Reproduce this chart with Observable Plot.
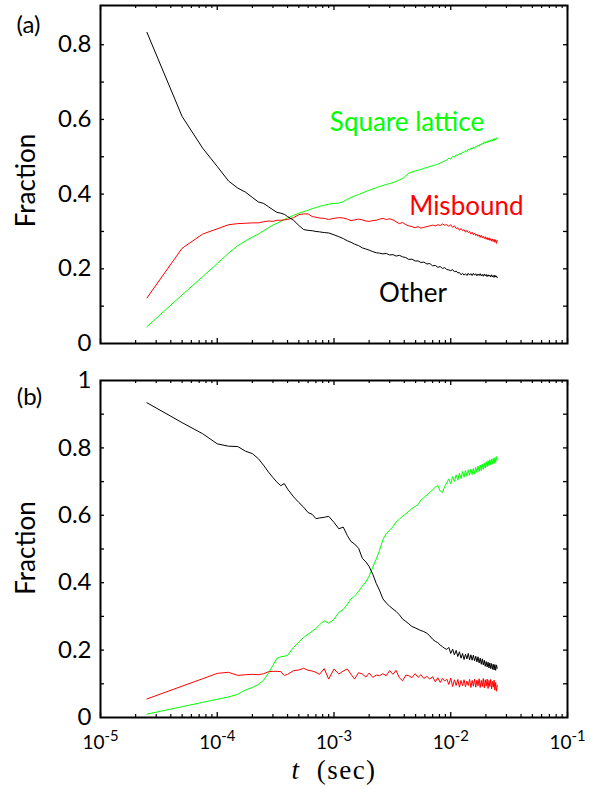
<!DOCTYPE html>
<html>
<head>
<meta charset="utf-8">
<script src="https://cdn.jsdelivr.net/npm/d3@7"></script>
<script src="https://cdn.jsdelivr.net/npm/@observablehq/plot@0.6"></script>
<style>
  html, body { margin: 0; padding: 0; background: #fff; }
  #wrap { position: relative; width: 606px; height: 789px; overflow: hidden; }
  #wrap svg { position: absolute; left: 0; overflow: visible; }
</style>
</head>
<body>
<div id="wrap"></div>
<script>
// ---- data ----
const DT = 2.5e-5; // simulation output step (sec)
const steps = [1,2,3,4,5,6,7,8,9,10,11,12,13,14,15,16,18,20,22,24,26,28,30,33,36,40,44,48,52,56,60,65,70,75,80,86,92,98,105,112,120,128,136,145,155,165,175,186,198,210,222,235,250,265,280,295,310,325,340,355,370,385,400,415,430,445,460,475,490,505,520,535,550,565,580,595,610,625,640,655,670,685,700,715,730,745,760,775,790,805,820,835,850,865,880,895,910,925,940,955,970,985,1000];

// panel (a)
const aOther = [.833,.608,.523,.474,.435,.416,.405,.391,.379,.375,.366,.358,.351,.349,.346,.340,
  .330,.316,.305,.303,.302,.300,.299,
  .297,.296,.291,.286,.281,.275,.271,.266,
  .262,.256,.253,.250,.246,.243,.242,
  .240,.241,.237,.238,.234,.236,.232,.230,.225,.226,.221,
  .221,.217,.218,.213,.214,.208,.209,.204,.206,.201,.203,
  .198,
  .197,.195,.198,.192,.194,.189,.190,.184,.188,.183,.187,.182,.188,.183,.187,.182,.188,.183,.187,.181,
  .186,.182,.187,.181,.185,.180,.186,.181,.185,.179,.184,.180,.183,.178,.184,.179,.182,.177,.183,.178,
  .181,.176];
const aMisbound = [.122,.255,.293,.307,.318,.321,.322,.323,.323,.326,.328,.327,.330,.330,.331,.332,
  .337,.345,.347,.347,.340,.338,.336,
  .335,.332,.335,.337,.336,.333,.329,.331,
  .333,.331,.328,.327,.329,.330,.333,
  .335,.332,.334,.331,.326,.321,.324,.318,.315,.313,.310,
  .313,.309,.311,.313,.315,.317,.315,.318,.316,.320,.317,
  .318,
  .314,.318,.311,.315,.308,.310,.303,.308,.302,.305,.298,.303,.297,.300,.293,.298,.291,.296,.289,.293,
  .287,.291,.284,.290,.283,.287,.281,.286,.279,.284,.277,.283,.276,.281,.274,.280,.273,.279,.271,.278,
  .268,.276];
const aSquare = [.045,.130,.179,.214,.242,.262,.275,.285,.293,.302,.310,.317,.322,.327,.332,.336,
  .343,.349,.353,.357,.361,.364,.367,
  .370,.373,.375,.376,.380,.386,.391,.395,
  .399,.403,.407,.410,.414,.417,.420,
  .423,.426,.428,.431,.434,.438,.442,.449,.456,.459,.462,
  .464,.466,.469,.471,.474,.476,.478,.480,.483,.486,.489,
  .491,
  .496,.494,.501,.499,.505,.503,.509,.507,.513,.511,.517,.514,.520,.518,.523,.521,.526,.523,.528,.526,
  .531,.528,.534,.531,.537,.534,.540,.536,.541,.537,.543,.539,.545,.541,.546,.542,.548,.543,.549,.545,
  .551,.548];

// panel (b)
const bOther = [.934,.875,.842,.812,.805,.804,.790,.783,.768,.748,.728,.712,.698,.688,.694,.678,
  .655,.638,.624,.608,.603,.590,.592,
  .594,.597,.579,.560,.565,.540,.522,.515,
  .502,.472,.462,.448,.425,.398,.378,
  .352,.340,.330,.322,.315,.305,.292,.285,.278,.270,.266,
  .262,.258,.255,.250,.242,.232,.226,.222,.215,.210,.205,
  .202,
  .208,.190,.203,.186,.199,.181,.195,.176,.190,.172,.188,.174,.190,.171,.186,.170,.185,.168,.182,.165,
  .180,.162,.176,.158,.174,.156,.170,.152,.166,.150,.164,.147,.162,.145,.160,.143,.158,.141,.157,.140,
  .156,.146];
const bMisbound = [.055,.093,.115,.131,.134,.125,.127,.128,.127,.130,.136,.137,.137,.136,.125,.128,
  .139,.141,.146,.140,.138,.134,.128,
  .145,.114,.144,.129,.138,.144,.128,.114,
  .133,.129,.120,.132,.119,.126,.124,
  .130,.124,.139,.128,.140,.118,.109,.126,.124,.118,.130,
  .119,.127,.116,.122,.114,.121,.106,.118,.104,.116,.108,
  .114,
  .098,.117,.092,.112,.095,.113,.090,.110,.094,.112,.091,.108,.095,.113,.089,.110,.093,.114,.090,.111,
  .094,.115,.089,.110,.092,.116,.088,.112,.093,.114,.086,.110,.092,.113,.085,.107,.090,.111,.081,.104,
  .078,.095];
const bSquare = [.010,.032,.045,.054,.061,.069,.082,.089,.098,.111,.132,.155,.176,.180,.182,.184,
  .208,.224,.238,.247,.256,.264,.275,
  .287,.280,.291,.312,.320,.336,.352,.360,
  .374,.390,.402,.420,.446,.470,.495,
  .528,.545,.556,.566,.580,.588,.598,.604,.612,.620,.626,
  .632,.645,.652,.660,.668,.675,.684,.688,.672,.668,.686,
  .696,
  .708,.693,.715,.700,.720,.704,.725,.709,.730,.713,.733,.716,.735,.719,.737,.721,.739,.723,.742,.727,
  .746,.730,.749,.733,.752,.736,.755,.740,.759,.744,.762,.747,.765,.750,.767,.752,.769,.754,.771,.757,
  .774,.764];

const seriesNames = ["Square lattice", "Misbound", "Other"];
const seriesColors = ["#00ff00", "#ff0000", "#000000"];
// in-plot series labels (panel a), data coordinates
const labelT = [4.22e-3, 1.36e-2, 4.75e-3];
const labelY = [0.570, 0.345, 0.112];

const xTicks = [1e-5, 1e-4, 1e-3, 1e-2, 1e-1];
const xTickExponents = ["-5", "-4", "-3", "-2", "-1"];
const aYTicks = [0, 0.2, 0.4, 0.6, 0.8];
const aYMinor = [0.1, 0.2, 0.3, 0.4, 0.5, 0.6, 0.7, 0.8];
const bYTicks = [0, 0.2, 0.4, 0.6, 0.8, 1];
const bYMinor = [0.1, 0.2, 0.3, 0.4, 0.5, 0.6, 0.7, 0.8, 0.9];

// ---- drawing ----
const W = 606, ML = 100, MR = 39;
const xMinor = d3.scaleLog().domain([1e-5, 1e-1]).ticks()
  .filter(v => Math.abs(Math.log10(v) - Math.round(Math.log10(v))) > 1e-6);

function panel(cfg) {
  const fw = W - ML - MR;
  const fh = cfg.height - cfg.marginTop - cfg.marginBottom;
  const rows = [];
  [[seriesNames[0], cfg.square], [seriesNames[1], cfg.misbound], [seriesNames[2], cfg.other]]
    .forEach(([name, vals]) => {
      if (vals.length !== steps.length) throw new Error(cfg.tag + " " + name + " has " + vals.length + " values");
      steps.forEach((k, i) => rows.push({t: k * DT, v: vals[i], series: name}));
    });
  const marks = [
    Plot.line(rows, {x: "t", y: "v", z: "series", stroke: "series", strokeWidth: 1}),
    Plot.tickX(xTicks, {x: d => d, insetTop: fh - 5, strokeWidth: 1.3}),
    Plot.tickX(xTicks, {x: d => d, insetBottom: fh - 5, strokeWidth: 1.3}),
    Plot.tickX(xMinor, {x: d => d, insetTop: fh - 3, strokeWidth: 1.2}),
    Plot.tickX(xMinor, {x: d => d, insetBottom: fh - 3, strokeWidth: 1.2}),
    Plot.tickY(cfg.yMinor, {y: d => d, insetRight: fw - 4, strokeWidth: 1.3}),
    Plot.tickY(cfg.yMinor, {y: d => d, insetLeft: fw - 4, strokeWidth: 1.3}),
    Plot.frame({stroke: "black", strokeWidth: 2}),
    Plot.axisY({ticks: cfg.yTicks, tickSize: 0, tickPadding: 9, tickFormat: d => String(d),
      fontSize: 24, label: null}),
    Plot.text([cfg.tag], {text: d => d, frameAnchor: "top-left", dx: cfg.tagDx, dy: cfg.tagDy,
      fontSize: 24, textAnchor: "middle", lineAnchor: "middle"}),
    Plot.text(["Fraction"], {text: d => d, frameAnchor: "left", dx: -74, dy: cfg.yLabelDy,
      rotate: -90, fontSize: 26, textAnchor: "middle", lineAnchor: "middle"})
  ];
  if (cfg.withLabels) {
    marks.push(Plot.text(seriesNames, {x: (d, i) => labelT[i], y: (d, i) => labelY[i], text: d => d,
      fill: d => d, fontSize: 26, textAnchor: "middle", lineAnchor: "bottom"}));
  }
  if (cfg.withXAxis) {
    marks.push(Plot.axisX({ticks: xTicks, tickSize: 0, tickPadding: 18,
      tickFormat: d => "10^" + xTickExponents[xTicks.indexOf(d)], fontSize: 19, label: null}));
    marks.push(Plot.text(["t (sec)"], {text: d => d, frameAnchor: "bottom", dx: 0, dy: 61,
      lineAnchor: "bottom", textAnchor: "middle", fontSize: 27, fontFamily: "'Liberation Serif', serif"}));
  }
  return Plot.plot({
    width: W, height: cfg.height,
    marginLeft: ML, marginRight: MR, marginTop: cfg.marginTop, marginBottom: cfg.marginBottom,
    x: {type: "log", domain: [1e-5, 1e-1], axis: cfg.withXAxis ? undefined : null},
    y: {domain: cfg.yDomain},
    color: {domain: seriesNames, range: seriesColors},
    style: {fontFamily: "Lato, sans-serif", fontSize: "24px", color: "black", background: "transparent", overflow: "visible"},
    marks
  });
}

const svgA = panel({
  tag: "(a)", height: 350, marginTop: 5, marginBottom: 7, yDomain: [0, 0.905],
  yTicks: aYTicks, yMinor: aYMinor, other: aOther, misbound: aMisbound, square: aSquare,
  tagDx: -72, tagDy: 20, yLabelDy: 6, withLabels: true, withXAxis: false
});
const svgB = panel({
  tag: "(b)", height: 439, marginTop: 30, marginBottom: 72, yDomain: [0, 1],
  yTicks: bYTicks, yMinor: bYMinor, other: bOther, misbound: bMisbound, square: bSquare,
  tagDx: -71, tagDy: 17, yLabelDy: -1, withLabels: false, withXAxis: true
});
svgA.style.top = "0px";
svgB.style.top = "350px";
const wrap = document.getElementById("wrap");
wrap.appendChild(svgA);
wrap.appendChild(svgB);

// superscript exponents on the x tick labels, italic t in the axis label
const NS = "http://www.w3.org/2000/svg";
svgB.querySelectorAll("text").forEach(t => {
  const s = t.textContent;
  if (s.includes("^")) {
    const [base, exp] = s.split("^");
    t.textContent = base;
    const sup = document.createElementNS(NS, "tspan");
    sup.setAttribute("dy", "-0.55em");
    sup.setAttribute("font-size", "0.78em");
    sup.textContent = exp;
    t.appendChild(sup);
  } else if (s === "t (sec)") {
    t.textContent = "";
    const it = document.createElementNS(NS, "tspan");
    it.setAttribute("font-style", "italic");
    it.textContent = "t";
    t.appendChild(it);
    t.appendChild(document.createTextNode(" (sec)"));
    t.style.letterSpacing = "1.5px";
    t.style.wordSpacing = "8px";
  }
});
</script>
</body>
</html>
